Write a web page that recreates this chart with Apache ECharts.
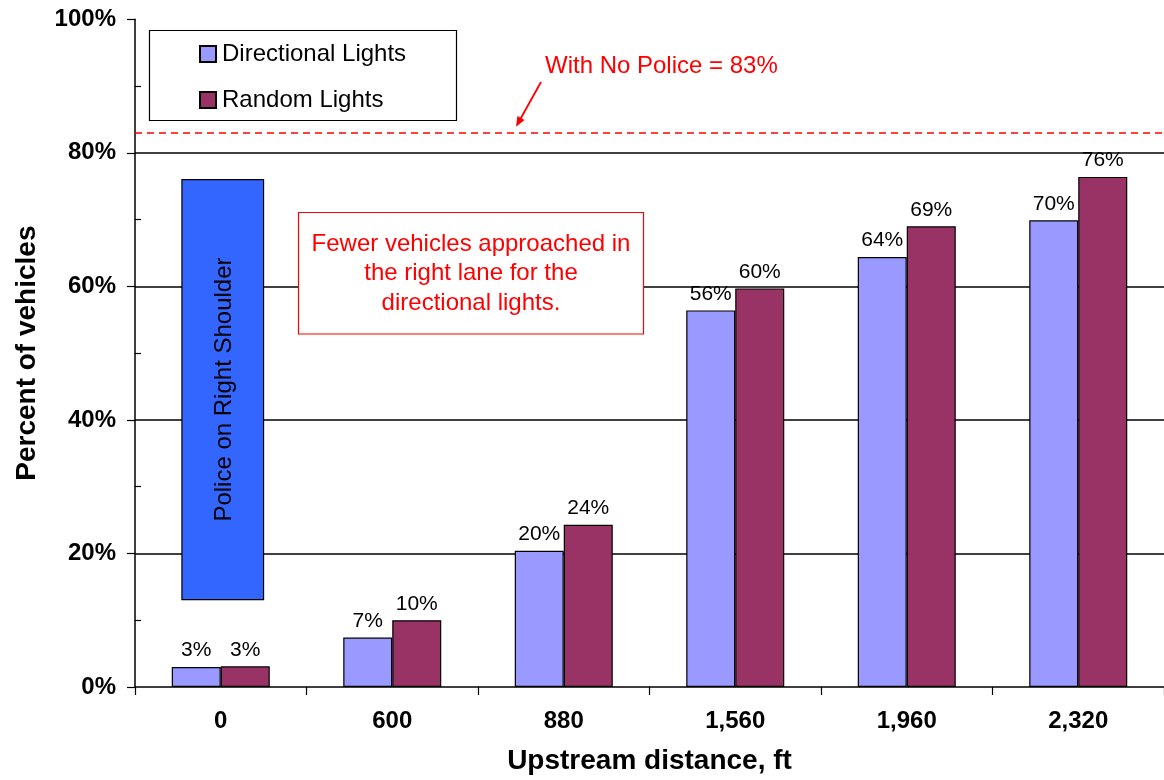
<!DOCTYPE html>
<html>
<head>
<meta charset="utf-8">
<title>Percent of vehicles in the right lane by upstream distance</title>
<script src="https://cdn.jsdelivr.net/npm/echarts@6/dist/echarts.min.js"></script>
<style>
  html, body { margin: 0; padding: 0; background: #fff; }
  #chart { width: 1164px; height: 780px; }
</style>
</head>
<body>
<div id="chart"></div>
<script>
// Upstream distance categories (ft)
const categories = ['0', '600', '880', '1,560', '1,960', '2,320'];
// Share of vehicles still in the right lane (%)
const directionalLights = [3.0, 7.4, 20.4, 56.4, 64.4, 69.9];
const randomLights = [3.1, 10.0, 24.3, 59.7, 69.0, 76.4];
// Baseline with no police present (%)
const noPoliceLevel = 83;
// Police vehicle position band: [category index, low %, high %]
const policeBand = [[0, 13.1, 76.0]];
// Value axis ticks
const yTicks = { min: 0, max: 100, interval: 20 };

const FONT = '"Liberation Sans", Arial, Helvetica, sans-serif';
const RED = '#FF0000';

const chart = echarts.init(document.getElementById('chart'), null, { renderer: 'canvas' });

const labelStyle = {
  show: true,
  position: 'top',
  distance: 6,
  fontFamily: FONT,
  fontSize: 21,
  color: '#000',
  formatter: p => Math.round(p.value) + '%'
};

const option = {
  backgroundColor: '#fff',
  animation: false,
  grid: { left: 135, right: 0, top: 19.3, bottom: 92.3, containLabel: false },
  legend: {
    data: ['Directional Lights', 'Random Lights'],
    orient: 'vertical',
    left: 199,
    top: 42,
    itemWidth: 16,
    itemHeight: 16,
    itemGap: 22,
    padding: 0,
    icon: 'rect',
    textStyle: { fontFamily: FONT, fontSize: 24, color: '#000', padding: [0, 0, 0, 1] },
    selectedMode: false
  },
  xAxis: {
    type: 'category',
    data: categories,
    axisLine: { show: true, lineStyle: { color: '#000', width: 1.5 } },
    axisTick: { show: true, length: 8, lineStyle: { color: '#000', width: 1.2 } },
    axisLabel: { fontFamily: FONT, fontSize: 24, fontWeight: 'bold', color: '#000', margin: 22 },
    name: 'Upstream distance, ft',
    nameLocation: 'middle',
    nameGap: 60,
    nameTextStyle: { fontFamily: FONT, fontSize: 28, fontWeight: 'bold', color: '#000' }
  },
  yAxis: [
    {
      type: 'value',
      min: yTicks.min,
      max: yTicks.max,
      interval: yTicks.interval,
      axisLine: { show: true, lineStyle: { color: '#000', width: 1.5 } },
      axisTick: { show: true, length: 8, lineStyle: { color: '#000', width: 1.2 } },
      axisLabel: {
        fontFamily: FONT, fontSize: 24, fontWeight: 'bold', color: '#000', margin: 19,
        formatter: v => v + '%'
      },
      splitLine: { show: true, showMinLine: false, showMaxLine: false, lineStyle: { color: '#000', width: 1.6 } },
      name: 'Percent of vehicles',
      nameLocation: 'middle',
      nameGap: 94,
      nameTextStyle: { fontFamily: FONT, fontSize: 28, fontWeight: 'bold', color: '#000' }
    },
    {
      // overlay axis carrying only the inward-facing minor ticks
      type: 'value',
      position: 'left',
      min: yTicks.min,
      max: yTicks.max,
      interval: yTicks.interval,
      axisLine: { show: false },
      axisTick: { show: false, inside: true },
      minorTick: { show: true, splitNumber: 2, length: 6, lineStyle: { color: '#000', width: 1.2 } },
      axisLabel: { show: false },
      splitLine: { show: false }
    }
  ],
  series: [
    {
      name: 'Directional Lights',
      type: 'bar',
      data: directionalLights,
      barWidth: 49,
      barGap: '0%',
      itemStyle: { color: '#9999FF', borderColor: '#000', borderWidth: 1.2 },
      label: labelStyle,
      markLine: {
        silent: true,
        symbol: ['none', 'none'],
        label: { show: false },
        lineStyle: { color: RED, type: [7, 5], width: 1.6 },
        data: [{ yAxis: noPoliceLevel }]
      },
      z: 3
    },
    {
      name: 'Random Lights',
      type: 'bar',
      data: randomLights,
      barWidth: 49,
      barGap: '0%',
      itemStyle: { color: '#993366', borderColor: '#000', borderWidth: 1.2 },
      label: labelStyle,
      z: 3
    },
    {
      name: 'Police on Right Shoulder',
      type: 'custom',
      data: policeBand,
      encode: { x: 0, y: [1, 2] },
      z: 4,
      renderItem: (params, api) => {
        const idx = api.value(0);
        const top = api.coord([idx, api.value(2)]);
        const bot = api.coord([idx, api.value(1)]);
        const w = api.size([1, 0])[0] * 0.476;
        const cx = top[0] + 2;
        return {
          type: 'group',
          children: [
            {
              type: 'rect',
              shape: { x: cx - w / 2, y: top[1], width: w, height: bot[1] - top[1] },
              style: { fill: '#3366FF', stroke: '#000', lineWidth: 1.2 }
            },
            {
              type: 'text',
              x: cx + 2,
              y: (top[1] + bot[1]) / 2,
              rotation: Math.PI / 2,
              style: {
                text: 'Police on Right Shoulder',
                align: 'center',
                verticalAlign: 'middle',
                fontFamily: FONT,
                fontSize: 24,
                fill: '#000'
              }
            }
          ]
        };
      }
    }
  ]
};

chart.setOption(option);

// Annotations: legend frame, no-police callout with arrow, and the note box
const lineY = chart.convertToPixel({ yAxisIndex: 0 }, noPoliceLevel);
const tip = [516, lineY - 6];
const tail = [541, 82];
const ang = Math.atan2(tip[1] - tail[1], tip[0] - tail[0]);
const head = 11, spread = 0.38;
const arrowHead = [
  tip,
  [tip[0] - head * Math.cos(ang - spread), tip[1] - head * Math.sin(ang - spread)],
  [tip[0] - head * Math.cos(ang + spread), tip[1] - head * Math.sin(ang + spread)]
];

chart.setOption({
  graphic: [
    {
      type: 'rect',
      shape: { x: 149.5, y: 30.5, width: 307, height: 90 },
      style: { fill: 'rgba(0,0,0,0)', stroke: '#000', lineWidth: 1.2 },
      z: 1
    },
    {
      type: 'text',
      x: 545,
      y: 66,
      style: {
        text: 'With No Police = ' + noPoliceLevel + '%',
        fontFamily: FONT, fontSize: 24, fill: RED,
        align: 'left', verticalAlign: 'middle'
      },
      z: 10
    },
    {
      type: 'line',
      shape: { x1: tail[0], y1: tail[1], x2: tip[0] + 3 * Math.cos(ang + Math.PI), y2: tip[1] + 3 * Math.sin(ang + Math.PI) },
      style: { stroke: RED, lineWidth: 1.8 },
      z: 10
    },
    {
      type: 'polygon',
      shape: { points: arrowHead },
      style: { fill: RED },
      z: 10
    },
    {
      type: 'rect',
      shape: { x: 298.5, y: 212.5, width: 345, height: 121.5 },
      style: { fill: '#fff', stroke: RED, lineWidth: 1.2 },
      z: 10
    },
    {
      type: 'text',
      x: 471,
      y: 273.5,
      style: {
        text: 'Fewer vehicles approached in\nthe right lane for the\ndirectional lights.',
        fontFamily: FONT, fontSize: 24, lineHeight: 29.5, fill: RED,
        align: 'center', verticalAlign: 'middle'
      },
      z: 11
    }
  ]
});
</script>
</body>
</html>
